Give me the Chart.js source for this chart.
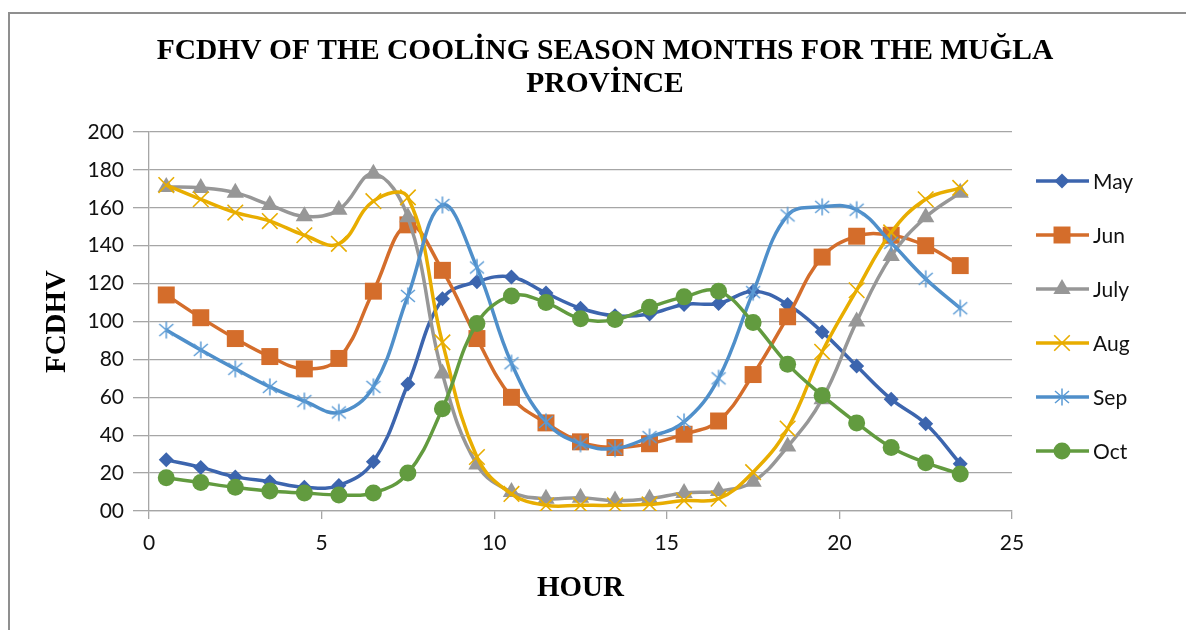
<!DOCTYPE html>
<html>
<head>
<meta charset="utf-8">
<script src="https://cdn.jsdelivr.net/npm/chart.js@4/dist/chart.umd.min.js"></script>
<style>
  html, body { margin: 0; padding: 0; background: #fff; overflow: hidden; }
  #wrap { position: relative; width: 1186px; height: 630px; }
  #frame { position: absolute; left: 8px; top: 12px; width: 1200px; height: 700px; border: 2px solid #8f8f8f; box-sizing: border-box; }
  canvas { position: absolute; left: 0; top: 0; }
</style>
</head>
<body>
<div id="wrap">
  <div id="frame"></div>
  <canvas id="chart" width="1186" height="630"></canvas>
</div>
<script>
// --- Data ---
const hours = [0.5, 1.5, 2.5, 3.5, 4.5, 5.5, 6.5, 7.5, 8.5, 9.5, 10.5, 11.5,
               12.5, 13.5, 14.5, 15.5, 16.5, 17.5, 18.5, 19.5, 20.5, 21.5, 22.5, 23.5];
const months = ['May', 'Jun', 'July', 'Aug', 'Sep', 'Oct'];

const may  = [27, 23, 18, 15.5, 12.5, 13.5, 26, 67, 112, 121, 123.5, 115, 107, 103, 104, 109, 109.5, 116, 109, 94.5, 76.5, 59, 46, 25];
const jun  = [114, 102, 91, 81.5, 75, 80.5, 116, 151, 127, 91, 60, 46.5, 36.5, 33.5, 35.5, 40.5, 47.5, 72, 102.5, 134, 145, 145.5, 140, 129.5];
const july = [171, 170.5, 168, 161.5, 155.5, 159, 178, 155, 72.5, 24.5, 10, 6.5, 7, 5.5, 6.5, 9.5, 10.5, 15.5, 34, 59, 100, 134.5, 155, 168];
const aug  = [172, 164.5, 157.5, 153, 145.5, 141, 163.5, 165.5, 89, 28.5, 9, 3, 3, 3, 3.5, 5.5, 6.5, 20.5, 43.5, 84, 116.5, 147, 164.5, 170.5];
const sep  = [95.5, 85, 75, 65.5, 58, 52, 65.5, 113.5, 161.5, 128.5, 78, 47, 35.5, 33, 39, 47, 70, 115.5, 156, 160.5, 159, 141.5, 122.5, 107];
const oct  = [17.5, 15, 12.5, 10.5, 9.5, 8.5, 9.5, 20, 54, 99, 113.5, 110, 101.5, 101, 107.5, 113, 116, 99.5, 77.5, 61, 46.5, 33.5, 25.5, 19.5];

const titleLines = ['FCDHV OF THE COOLİNG SEASON MONTHS FOR THE MUĞLA', 'PROVİNCE'];

// --- Styles ---
const colors = ['#3c65ae', '#d46d2b', '#979797', '#e8ad00', '#4f8fca', '#629b3f'];
const markerColors = ['#3c65ae', '#d46d2b', '#979797', '#e8ad00', '#5b9bd5', '#629b3f'];

// asterisk marker (vertical bar + X), like the spreadsheet one
function asterisk(color) {
  const c = document.createElement('canvas');
  c.width = 20; c.height = 20;
  const g = c.getContext('2d');
  g.strokeStyle = color;
  g.lineWidth = 1.5;
  g.beginPath();
  g.moveTo(10, 1.5); g.lineTo(10, 18.5);
  g.moveTo(3, 4); g.lineTo(17, 16);
  g.moveTo(3, 16); g.lineTo(17, 4);
  g.stroke();
  return c;
}

const styles = [
  { pointStyle: 'rectRot', radius: 7.5, border: 0 },
  { pointStyle: 'rect', radius: 12, border: 0 },
  { pointStyle: 'triangle', radius: 10, border: 0 },
  { pointStyle: 'crossRot', radius: 11, border: 1.6 },
  { pointStyle: asterisk(markerColors[4]), radius: 10, border: 0 },
  { pointStyle: 'circle', radius: 8.5, border: 0 }
];

const series = [may, jun, july, aug, sep, oct];

const datasets = series.map((vals, i) => ({
  label: months[i],
  data: hours.map((h, k) => ({ x: h, y: vals[k] })),
  borderColor: colors[i],
  backgroundColor: markerColors[i],
  borderWidth: 3.5,
  tension: 0.4,
  pointStyle: styles[i].pointStyle,
  pointRadius: styles[i].radius,
  pointBorderWidth: styles[i].border,
  pointBorderColor: markerColors[i],
  pointBackgroundColor: markerColors[i],
  order: series.length - i
}));

// title centred on the frame, legend on the right (line with marker through it)
const decorations = {
  id: 'decorations',
  afterDraw(chart) {
    const ctx = chart.ctx;
    ctx.save();
    ctx.fillStyle = '#000';
    ctx.font = 'bold 29.5px "Liberation Serif"';
    ctx.textAlign = 'center';
    ctx.textBaseline = 'middle';
    titleLines.forEach((t, i) => ctx.fillText(t, 605, 51 + i * 33));

    datasets.forEach((ds, i) => {
      const y = 181 + i * 54;
      ctx.strokeStyle = colors[i];
      ctx.lineWidth = 3.5;
      ctx.beginPath();
      ctx.moveTo(1036, y);
      ctx.lineTo(1089, y);
      ctx.stroke();
      ctx.fillStyle = markerColors[i];
      ctx.strokeStyle = markerColors[i];
      ctx.lineWidth = styles[i].border || 1;
      Chart.helpers.drawPoint(ctx, {
        pointStyle: styles[i].pointStyle,
        radius: styles[i].radius,
        rotation: 0,
        borderWidth: styles[i].border
      }, 1062, y);
      ctx.fillStyle = '#111';
      ctx.font = '21px Lato';
      ctx.textAlign = 'left';
      ctx.textBaseline = 'middle';
      ctx.fillText(ds.label, 1093, y + 1);
    });
    ctx.restore();
  }
};

new Chart(document.getElementById('chart'), {
  type: 'line',
  data: { datasets },
  plugins: [decorations],
  options: {
    responsive: false,
    animation: false,
    layout: { padding: { left: 36, right: 174, top: 132, bottom: 20 } },
    plugins: {
      legend: { display: false },
      tooltip: { enabled: false },
      title: { display: false }
    },
    scales: {
      x: {
        type: 'linear',
        min: 0,
        max: 25,
        afterFit: s => { s.height = 99; },
        ticks: { stepSize: 5, color: '#111', font: { family: 'Lato', size: 21 }, padding: 12, maxRotation: 0 },
        grid: { drawOnChartArea: false, drawTicks: true, tickLength: 8, color: '#a6a6a6', lineWidth: 1.3 },
        border: { color: '#a6a6a6', width: 1.3 },
        title: {
          display: true,
          text: 'HOUR',
          color: '#000',
          font: { family: 'Liberation Serif', size: 29, weight: 'bold', lineHeight: 1.2 },
          padding: 4
        }
      },
      y: {
        min: 0,
        max: 200,
        afterFit: s => { s.width = 113; },
        ticks: {
          stepSize: 20,
          color: '#111',
          font: { family: 'Lato', size: 21 },
          padding: 9,
          callback: v => (v === 0 ? '00' : String(v))
        },
        grid: { color: '#a6a6a6', lineWidth: 1.3, tickLength: 16 },
        border: { color: '#a6a6a6', width: 1.3 },
        title: {
          display: true,
          text: 'FCDHV',
          color: '#000',
          font: { family: 'Liberation Serif', size: 29, weight: 'bold', lineHeight: 1.2 },
          padding: 4
        }
      }
    }
  }
});
</script>
</body>
</html>
